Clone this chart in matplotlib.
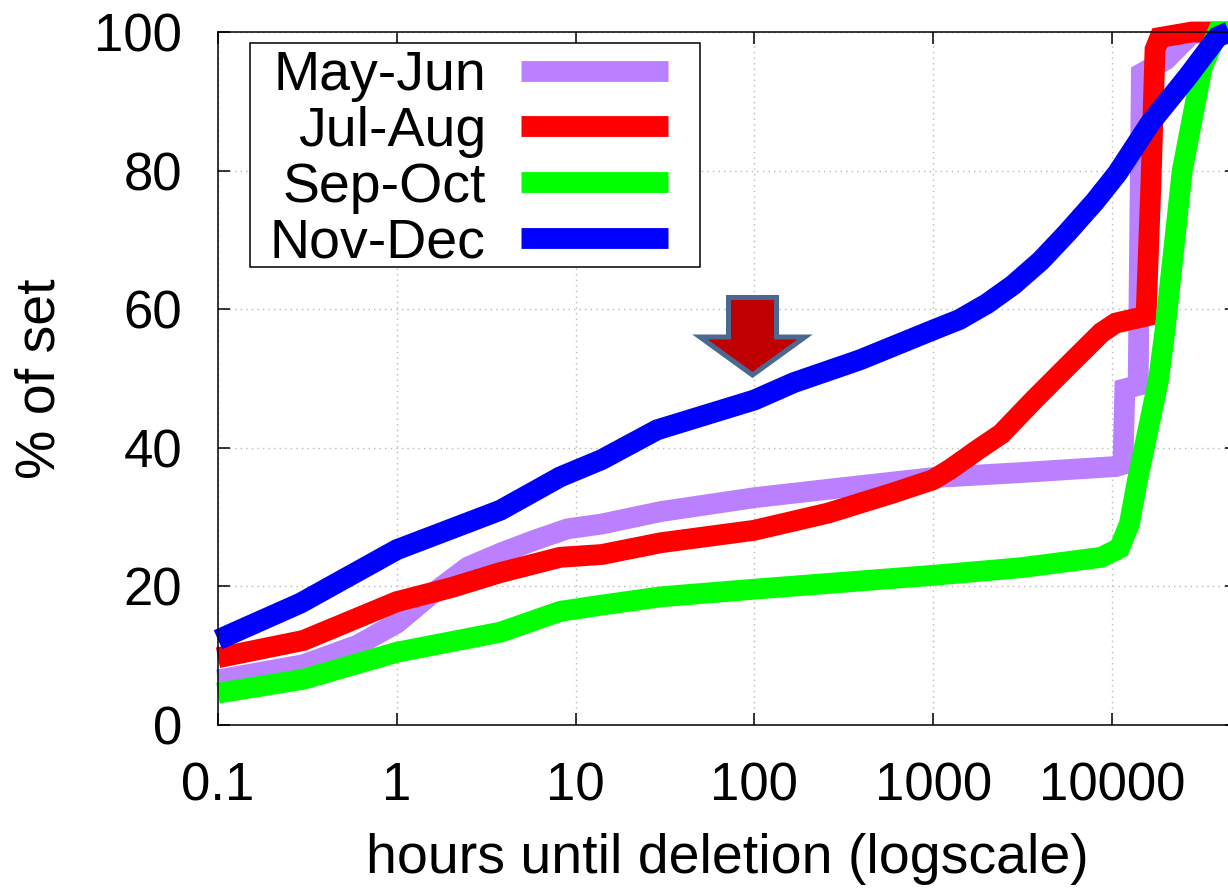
import matplotlib
matplotlib.use("Agg")
import matplotlib.pyplot as plt
from matplotlib.patches import Polygon, Rectangle
from matplotlib.ticker import NullLocator

# CDF of time until deletion, one curve per two-month period
may_jun_h = [0.1, 0.3, 0.6, 1, 1.5, 2.5, 3.8, 5.8, 9, 14, 30, 100, 300, 1000,
             3000, 10500, 11500, 11800, 14000, 14600, 20000, 28000, 50000]
may_jun_p = [6.5, 8.7, 11.5, 14.7, 18.5, 22.8, 24.8, 26.6, 28.3, 29.0, 30.8, 32.8,
             34.2, 35.7, 36.4, 37.3, 37.6, 48.5, 49.0, 94.0, 96.0, 99.8, 100]

jul_aug_h = [0.1, 0.3, 1, 2, 3.8, 8.2, 14, 30, 100, 260, 600, 1000, 1260, 1770,
             2400, 3650, 5600, 8700, 10500, 15500, 16500, 17400, 18500, 28000, 50000]
jul_aug_p = [9.7, 12.2, 17.8, 19.8, 22.0, 24.2, 24.6, 26.3, 28.1, 30.6, 33.5, 35.4,
             37.0, 39.7, 42.0, 46.9, 51.7, 56.6, 58.0, 59.0, 78.0, 97.5, 99.2, 100, 100]

sep_oct_h = [0.1, 0.3, 1, 3.8, 8.2, 14, 30, 100, 1000, 3100, 8700, 11000, 12500,
             13900, 18200, 19800, 24700, 32000, 39000, 50000]
sep_oct_p = [4.6, 6.6, 10.5, 13.4, 16.4, 17.3, 18.5, 19.6, 21.6, 22.7, 24.2, 25.5,
             29.0, 35.4, 49.8, 57.0, 80.0, 95.0, 100, 100]

nov_dec_h = [0.1, 0.29, 1, 3.8, 8.2, 14, 28.6, 100, 166, 390, 1000, 1400, 2000,
             2800, 4000, 5600, 8000, 10700, 16400, 26400, 39000, 50000]
nov_dec_p = [12.3, 17.6, 25.3, 31.0, 35.8, 38.3, 42.6, 46.9, 49.4, 52.7, 57.0,
             58.5, 60.8, 63.5, 67.0, 71.0, 75.5, 79.6, 86.9, 93.5, 99.3, 100.5]

series = [
    ("May-Jun", may_jun_h, may_jun_p, "#ba80ff"),
    ("Jul-Aug", jul_aug_h, jul_aug_p, "#ff0000"),
    ("Sep-Oct", sep_oct_h, sep_oct_p, "#00ff00"),
    ("Nov-Dec", nov_dec_h, nov_dec_p, "#0000ff"),
]

xticks = [0.1, 1, 10, 100, 1000, 10000]
xticklabels = ["0.1", "1", "10", "100", "1000", "10000"]
yticks = [0, 20, 40, 60, 80, 100]

plt.rcParams["font.family"] = ["Liberation Sans", "DejaVu Sans"]

W, H = 1228, 896
fig = plt.figure(figsize=(W / 100, H / 100), dpi=100)
ax = fig.add_axes([218 / W, 171 / H, (1237 - 218) / W, (725 - 32) / H])

for label, hrs, pct, col in series:
    ax.plot(hrs, pct, color=col, lw=15, label=label, clip_on=False,
            solid_capstyle="butt", solid_joinstyle="miter")

ax.set_xscale("log")
ax.set_xlim(0.1, 5e4)
ax.set_ylim(0, 100)
ax.set_xticks(xticks)
ax.set_xticklabels(xticklabels)
ax.xaxis.set_minor_locator(NullLocator())
ax.set_yticks(yticks)
ax.grid(True, color="#b8b8b8", lw=1, ls=(0, (1, 3)))
ax.set_axisbelow(True)
ax.tick_params(direction="in", top=True, right=True, length=8.5, width=1.1,
               labelsize=38, pad=26)
for s in ax.spines.values():
    s.set_linewidth(1.1)

ax.set_xlabel("hours until deletion (logscale)", fontsize=40, labelpad=16)
ax.set_ylabel("% of set", fontsize=40, labelpad=20)

# key: labels right-aligned to the left of the samples, boxed
leg = ax.legend(loc="upper left", bbox_to_anchor=(270 / W, 1 - 50 / H),
                bbox_transform=fig.transFigure, borderaxespad=0, fontsize=40,
                markerfirst=False, handlelength=2.64, handletextpad=0.63,
                labelspacing=0.07, borderpad=0, frameon=False)
for ln in leg.get_lines():
    ln.set_linewidth(15)
ax.add_patch(Rectangle((250 / W, 1 - 267 / H), 450 / W, 224 / H,
                       transform=fig.transFigure, facecolor="white",
                       edgecolor="black", lw=1.1, zorder=4.5, clip_on=False))

# callout arrow pointing at the Nov-Dec curve
arrow_px = [(728.5, 297.5), (776.5, 297.5), (776.5, 337), (805, 337),
            (752.5, 375), (700, 337), (728.5, 337)]
arrow = Polygon([(x / W, 1 - y / H) for x, y in arrow_px], closed=True,
                transform=fig.transFigure, facecolor="#c00000",
                edgecolor="#4a6890", lw=3.6, joinstyle="miter")
fig.patches.append(arrow)

fig.savefig("out.png", dpi=100)
